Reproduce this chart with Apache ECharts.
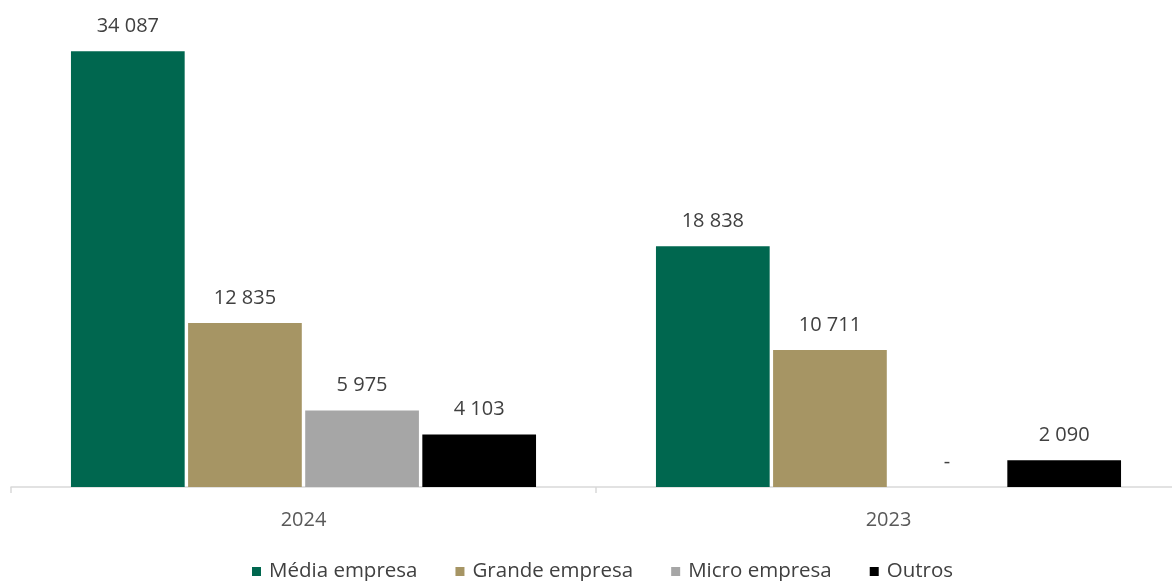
<!DOCTYPE html>
<html>
<head>
<meta charset="utf-8">
<script src="https://cdn.jsdelivr.net/npm/echarts@6/dist/echarts.min.js"></script>
<style>html,body{margin:0;padding:0;background:#fff;overflow:hidden}#c{width:1181px;height:581px}</style>
</head>
<body>
<div id="c"></div>
<script>
const categories = ['2024', '2023'];
const media = [34087, 18838];
const grande = [12835, 10711];
const micro = [5975, 0];
const outros = [4103, 2090];

const fmt = v => v === 0 ? '-' : String(v).replace(/\B(?=(\d{3})+(?!\d))/g, ' ');
const font = '"Open Sans", Lato, sans-serif';
const label = {
  show: true, position: 'top', distance: 15,
  color: '#404040', fontSize: 20, fontFamily: font,
  formatter: p => fmt(p.value)
};
function s(name, data, color) {
  return { name, type: 'bar', data, itemStyle: { color }, label, barGap: '3%', barCategoryGap: '20.5%' };
}
const chart = echarts.init(document.getElementById('c'));
chart.setOption({
  animation: false,
  textStyle: { fontFamily: font },
  grid: { left: 11, right: 0, top: 5, bottom: 94 },
  legend: {
    bottom: -6, left: 247, itemWidth: 9, itemHeight: 9, itemGap: 38,
    padding: 5,
    icon: 'rect',
    textStyle: { color: '#404040', fontSize: 20.5, fontFamily: font, padding: [0, 0, 0, 3] }
  },
  xAxis: {
    type: 'category', data: categories,
    axisLine: { lineStyle: { color: '#d9d9d9', width: 1.5 } },
    axisTick: { show: true, length: 6, lineStyle: { color: '#d9d9d9', width: 1.5 } },
    axisLabel: { color: '#595959', fontSize: 20, margin: 23, fontFamily: font }
  },
  yAxis: { type: 'value', min: 0, max: 37700, show: false, splitLine: { show: false } },
  series: [
    s('Média empresa', media, '#00674F'),
    s('Grande empresa', grande, '#A69564'),
    s('Micro empresa', micro, '#A6A6A6'),
    s('Outros', outros, '#000000')
  ]
});
</script>
</body>
</html>
